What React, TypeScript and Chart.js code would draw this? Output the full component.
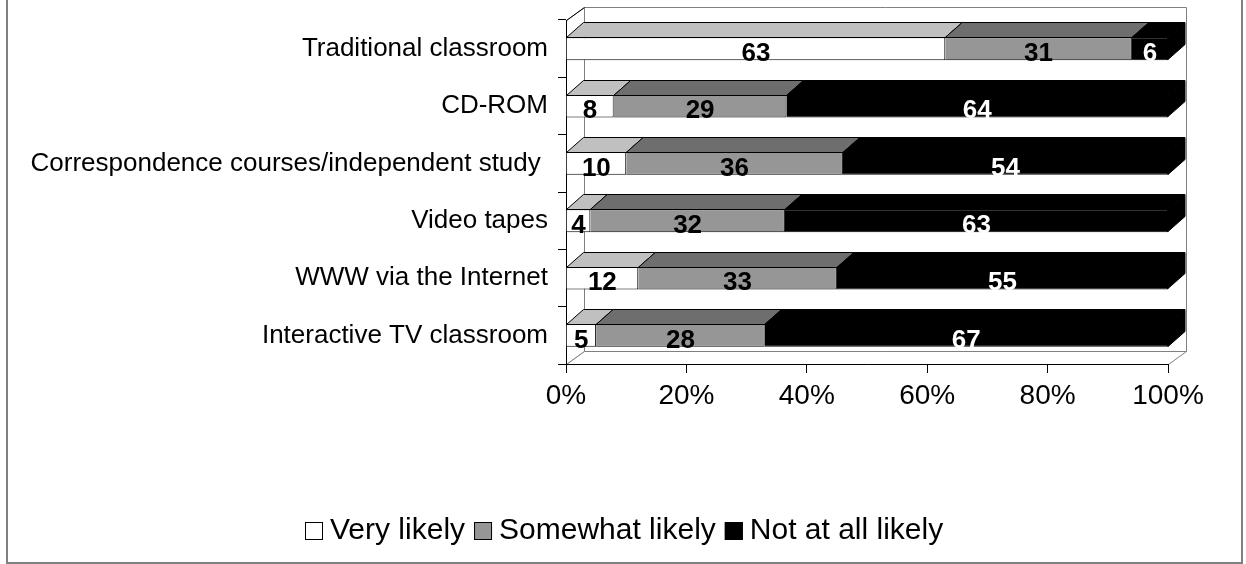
import React, { useEffect, useRef } from "react";
import { Chart, registerables } from "chart.js";

Chart.register(...registerables);

// ---------- data ----------
const CATEGORIES = [
  "Traditional classroom",
  "CD-ROM",
  "Correspondence courses/independent study ",
  "Video tapes",
  "WWW via the Internet",
  "Interactive TV classroom",
];
const SERIES_NAMES = ["Very likely", "Somewhat likely", "Not at all likely"];
const VERY_LIKELY = [63, 8, 10, 4, 12, 5];
const SOMEWHAT_LIKELY = [31, 29, 36, 32, 33, 28];
const NOT_AT_ALL_LIKELY = [6, 64, 54, 63, 55, 67];
const X_TICKS = [0, 20, 40, 60, 80, 100];

// ---------- styles ----------
const FONT = "'Liberation Sans', Arial, Helvetica, sans-serif";
const FRONT_COLORS = ["#FFFFFF", "#969696", "#000000"];
const TOP_COLORS = ["#C0C0C0", "#6E6E6E", "#000000"];
const SIDE_COLORS = ["#A0A0A0", "#505050", "#000000"];
const LABEL_COLORS = ["#000000", "#000000", "#FFFFFF"];
const WALL_DX = 18;
const WALL_DY = -13;
const BAR_DX = 17;
const BAR_DY = -15;

const RAW = [VERY_LIKELY, SOMEWHAT_LIKELY, NOT_AT_ALL_LIKELY];
// 100% stacked: each row is shown as share of its total
const ROW_TOTALS = CATEGORIES.map((_, j) => RAW.reduce((s, arr) => s + arr[j], 0));
const PERCENTS = RAW.map((arr) => arr.map((v, j) => (v / ROW_TOTALS[j]) * 100));

function poly(ctx: CanvasRenderingContext2D, pts: number[][]) {
  ctx.beginPath();
  ctx.moveTo(pts[0][0], pts[0][1]);
  for (let k = 1; k < pts.length; k++) ctx.lineTo(pts[k][0], pts[k][1]);
  ctx.closePath();
}

const excel3D = {
  id: "excel3D",
  beforeDraw(chart: any) {
    const { ctx, chartArea: a, width, height } = chart;
    const L = Math.round(a.left) + 0.5;
    const R = Math.round(a.right) + 0.5;
    const T = Math.round(a.top) + 0.5;
    const B = Math.round(a.bottom) + 0.5;
    ctx.save();
    // outer frame
    ctx.strokeStyle = "#808080";
    ctx.lineWidth = 2;
    ctx.beginPath();
    ctx.moveTo(7, -5);
    ctx.lineTo(7, height - 1);
    ctx.lineTo(width - 4, height - 1);
    ctx.lineTo(width - 4, -5);
    ctx.stroke();

    ctx.lineWidth = 1;
    ctx.fillStyle = "#FFFFFF";
    ctx.strokeStyle = "#808080";
    // back wall
    poly(ctx, [
      [L + WALL_DX, T + WALL_DY],
      [R + WALL_DX, T + WALL_DY],
      [R + WALL_DX, B + WALL_DY],
      [L + WALL_DX, B + WALL_DY],
    ]);
    ctx.fill();
    ctx.stroke();
    // left wall
    poly(ctx, [
      [L, T],
      [L + WALL_DX, T + WALL_DY],
      [L + WALL_DX, B + WALL_DY],
      [L, B],
    ]);
    ctx.fill();
    ctx.stroke();
    // floor
    poly(ctx, [
      [L, B],
      [L + WALL_DX, B + WALL_DY],
      [R + WALL_DX, B + WALL_DY],
      [R, B],
    ]);
    ctx.fill();
    ctx.stroke();
    // dark top edge of the left wall
    ctx.strokeStyle = "#000000";
    ctx.beginPath();
    ctx.moveTo(L, T);
    ctx.lineTo(L + WALL_DX, T + WALL_DY);
    ctx.stroke();
    ctx.restore();
  },
  afterDatasetsDraw(chart: any) {
    const { ctx } = chart;
    const nSets = chart.data.datasets.length;
    ctx.save();
    ctx.lineWidth = 1;
    ctx.strokeStyle = "#000000";
    ctx.lineJoin = "miter";
    CATEGORIES.forEach((_, j) => {
      for (let i = 0; i < nSets; i++) {
        const el = chart.getDatasetMeta(i).data[j];
        const p = el.getProps(["x", "y", "base", "height"], true);
        const x0 = Math.min(p.x, p.base);
        const x1 = Math.max(p.x, p.base);
        const top = Math.round(p.y - p.height / 2) + 0.5;
        const bottom = Math.round(p.y + p.height / 2) - 0.5;
        // top face
        poly(ctx, [
          [x0, top],
          [x0 + BAR_DX, top + BAR_DY],
          [x1 + BAR_DX, top + BAR_DY],
          [x1, top],
        ]);
        ctx.fillStyle = TOP_COLORS[i];
        ctx.fill();
        ctx.stroke();
        if (i === nSets - 1) {
          // right end face
          poly(ctx, [
            [x1, top],
            [x1 + BAR_DX, top + BAR_DY],
            [x1 + BAR_DX, bottom + BAR_DY],
            [x1, bottom],
          ]);
          ctx.fillStyle = SIDE_COLORS[i];
          ctx.fill();
          ctx.stroke();
        }
      }
    });
    // value labels
    ctx.font = `bold 26px ${FONT}`;
    ctx.textAlign = "center";
    ctx.textBaseline = "middle";
    CATEGORIES.forEach((_, j) => {
      for (let i = 0; i < nSets; i++) {
        const el = chart.getDatasetMeta(i).data[j];
        const p = el.getProps(["x", "y", "base"], true);
        ctx.fillStyle = LABEL_COLORS[i];
        ctx.fillText(String(RAW[i][j]), (p.x + p.base) / 2, p.y + 5);
      }
    });
    ctx.restore();
  },
  afterDraw(chart: any) {
    // legend
    const { ctx, width } = chart;
    ctx.save();
    ctx.font = `30px ${FONT}`;
    ctx.textBaseline = "middle";
    ctx.textAlign = "left";
    const box = 18;
    const gapBox = 7;
    const gapItem = 9;
    const ds = chart.data.datasets;
    const widths = ds.map((d: any) => ctx.measureText(d.label).width);
    const total =
      widths.reduce((s: number, w: number) => s + w, 0) + ds.length * (box + gapBox) + (ds.length - 1) * gapItem;
    let x = Math.round(width / 2 + 1 - total / 2);
    const cy = 531;
    ds.forEach((d: any, i: number) => {
      ctx.fillStyle = d.backgroundColor;
      ctx.fillRect(x, cy - box / 2, box, box);
      ctx.strokeStyle = "#000000";
      ctx.lineWidth = 1;
      ctx.strokeRect(x + 0.5, cy - box / 2 + 0.5, box - 1, box - 1);
      x += box + gapBox;
      ctx.fillStyle = "#000000";
      ctx.fillText(d.label, x, cy);
      x += widths[i] + gapItem;
    });
    ctx.restore();
  },
};

export default function App() {
  const ref = useRef<HTMLCanvasElement>(null);
  useEffect(() => {
    if (!ref.current) return;
    const chart = new Chart(ref.current, {
      type: "bar",
      data: {
        labels: CATEGORIES,
        datasets: SERIES_NAMES.map((name, i) => ({
          label: name,
          data: PERCENTS[i],
          backgroundColor: FRONT_COLORS[i],
          borderColor: "#000000",
          borderWidth: 1,
          barPercentage: 0.4,
          categoryPercentage: 1,
        })),
      },
      options: {
        indexAxis: "y",
        responsive: false,
        animation: false,
        events: [],
        layout: { padding: { left: 0, right: 78, top: 20, bottom: 0 } },
        plugins: {
          legend: { display: false },
          tooltip: { enabled: false },
        },
        scales: {
          x: {
            stacked: true,
            min: X_TICKS[0],
            max: X_TICKS[X_TICKS.length - 1],
            afterFit(scale: any) {
              scale.height = 200;
              scale.paddingLeft = 0;
              scale.paddingRight = 0;
            },
            afterBuildTicks(scale: any) {
              scale.ticks = X_TICKS.map((v) => ({ value: v }));
            },
            ticks: {
              autoSkip: false,
              maxRotation: 0,
              color: "#000000",
              padding: 6,
              font: { family: FONT, size: 28 },
              callback: (v: any) => `${v}%`,
            },
            grid: { drawOnChartArea: false, drawTicks: true, tickLength: 9, color: "#000000" },
            border: { display: true, color: "#000000", width: 1 },
          },
          y: {
            stacked: true,
            afterFit(scale: any) {
              scale.width = 566;
              scale.paddingTop = 0;
              scale.paddingBottom = 0;
            },
            ticks: {
              color: "#000000",
              padding: 10,
              autoSkip: false,
              font: { family: FONT, size: 26 },
            },
            grid: { drawOnChartArea: false, drawTicks: true, tickLength: 8, color: "#000000", offset: true },
            border: { display: true, color: "#000000", width: 1 },
          },
        },
      },
      plugins: [excel3D],
    } as any);
    return () => chart.destroy();
  }, []);
  return (
    <div style={{ position: "fixed", left: 0, top: 0, width: 1246, height: 564, background: "#FFFFFF" }}>
      <canvas ref={ref} width={1246} height={564} style={{ display: "block", width: 1246, height: 564 }} />
    </div>
  );
}
